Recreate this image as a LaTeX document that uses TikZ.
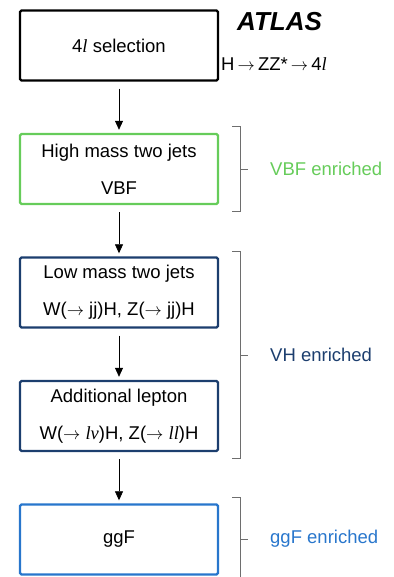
\documentclass[tikz,border=0pt]{standalone}
\usepackage{fontspec}
\setmainfont{Liberation Sans}
\newfontfamily\seriffont{Liberation Serif}
\usetikzlibrary{arrows.meta}
\definecolor{vbfgreen}{RGB}{102,204,90}
\definecolor{vhnavy}{RGB}{28,62,110}
\definecolor{ggfblue}{RGB}{40,118,204}
\definecolor{brgray}{RGB}{110,110,110}
\newcommand{\lep}{{\seriffont\itshape l}}
\newcommand{\nuit}{{\seriffont\itshape ν}}
\newcommand{\arr}{\ensuremath{\rightarrow}}
\tikzset{
  box/.style={draw, line width=2.4pt, rounded corners=1.5pt, minimum width=198pt, minimum height=70pt, align=center, inner sep=0pt, font=\fontsize{18.5}{37}\selectfont},
  flow/.style={-{Triangle[width=8pt,length=9pt]}, line width=0.7pt},
  brace/.style={draw=brgray, line width=0.8pt},
  lab/.style={anchor=west, font=\fontsize{18.5}{22}\selectfont, inner sep=0pt}
}
\begin{document}
\begin{tikzpicture}[x=1pt,y=-1pt]
\useasboundingbox (0,0) rectangle (393,577);
\node[box, draw=black] (sel) at (119,45.5) {4\lep{} selection};
\node[box, draw=vbfgreen] (vbf) at (119,169) {High mass two jets\\VBF};
\node[box, draw=vhnavy] (low) at (119,292.5) {Low mass two jets\\W(\arr{} jj)H, Z(\arr{} jj)H};
\node[box, draw=vhnavy] (lep) at (119,416) {Additional lepton\\W(\arr{} \lep\nuit)H, Z(\arr{} \lep\lep)H};
\node[box, draw=ggfblue] (ggf) at (119,539.5) {ggF};

\draw[flow] ([yshift=-7pt]sel.south) -- ([yshift=3pt]vbf.north);
\draw[flow] ([yshift=-7pt]vbf.south) -- ([yshift=3pt]low.north);
\draw[flow] ([yshift=-7pt]low.south) -- ([yshift=3pt]lep.north);
\draw[flow] ([yshift=-7pt]lep.south) -- ([yshift=3pt]ggf.north);

\node[anchor=west, inner sep=0pt, font=\fontsize{26}{29}\selectfont\bfseries\itshape] (atlas) at (237,22) {ATLAS};
\node[anchor=west, inner sep=0pt, font=\fontsize{18.5}{22}\selectfont] (proc) at (221,64) {H\,\arr\,ZZ*\,\arr\,4\lep};

\coordinate (b1t) at (232,126); \coordinate (b1b) at (232,211); \coordinate (b1m) at (240,169); \coordinate (b1e) at (248,169);
\draw[brace] (b1t) -- (240,126) -- (240,211) -- (b1b);
\draw[brace] (b1m) -- (b1e);
\node[lab, text=vbfgreen] (vbfl) at (270,169) {VBF enriched};

\coordinate (b2t) at (232,251); \coordinate (b2b) at (232,458); \coordinate (b2m) at (240,355); \coordinate (b2e) at (248,355);
\draw[brace] (b2t) -- (240,251) -- (240,458) -- (b2b);
\draw[brace] (b2m) -- (b2e);
\node[lab, text=vhnavy] (vhl) at (270,355) {VH enriched};

\coordinate (b3t) at (232,497); \coordinate (b3b) at (240,580); \coordinate (b3m) at (240,539); \coordinate (b3e) at (248,539);
\draw[brace] (b3t) -- (240,497) -- (b3b);
\draw[brace] (b3m) -- (b3e);
\node[lab, text=ggfblue] (ggfl) at (270,539) {ggF enriched};
\end{tikzpicture}
\end{document}
